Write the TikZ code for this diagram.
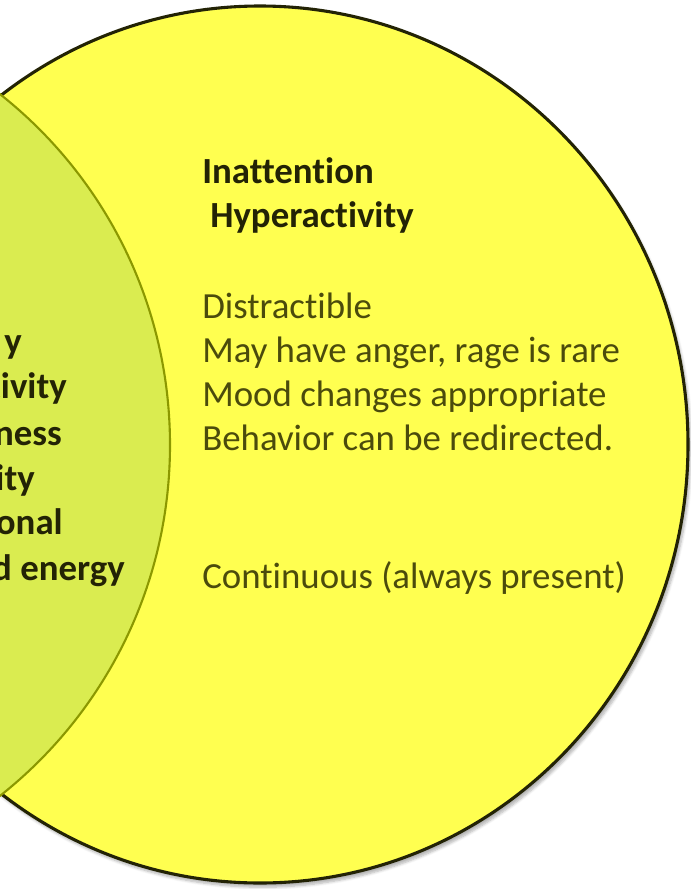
\documentclass[tikz,border=0pt]{standalone}
\usepackage{fontspec}
\setmainfont{Carlito}[Ligatures=NoCommon]
\usetikzlibrary{shadows.blur}
\definecolor{adhdyellow}{RGB}{255, 255, 80}
\definecolor{overlapgreen}{RGB}{218, 236, 80}
\definecolor{rimolive}{RGB}{140, 152, 0}
\definecolor{inkdark}{RGB}{35, 35, 5}
\definecolor{inkolive}{RGB}{75, 75, 12}

\begin{document}
\begin{tikzpicture}[x=0.025cm, y=0.025cm,
    symptom/.style={anchor=base west, inner sep=0pt, text=inkolive,
      font=\fontsize{26.2}{26.2}\selectfont},
    heading/.style={symptom, text=inkdark,
      font=\fontsize{26.2}{26.2}\selectfont\bfseries},
    shared/.style={heading, anchor=base east}]

% page frame, 691 x 889 px
\useasboundingbox (0,0) rectangle (691,-889);
\clip (0,0) rectangle (691,-889);

% ADHD circle on the right
\fill[adhdyellow, blur shadow={shadow xshift=2pt, shadow yshift=-3pt,
  shadow blur steps=6, shadow opacity=30}]
  (260,-444.5) ellipse [x radius=428, y radius=438.5];
\draw[inkdark, line width=2.2pt] (260,-444.5) ellipse [x radius=428, y radius=438.5];

% overlap with the circle on the left
\filldraw[fill=overlapgreen, draw=rimolive, line width=1.5pt]
  (-277,-445) circle [radius=447];

% right column
\node[heading] (inatt) at (202,-183) {Inattention};
\node[heading] (hyper) at (210,-227) {Hyperactivity};

\foreach \y/\txt [count=\i] in {318/Distractible,
    362/{May have anger, rage is rare},
    406/Mood changes appropriate,
    450/Behavior can be redirected.} {
  \node[symptom] (sym\i) at (202,-\y) {\txt};
}
\node[symptom] (course) at (202,-588) {Continuous (always present)};

% cut-off words in the overlap
\foreach \x/\y/\txt [count=\i] in {22/353/y, 67/398/tivity, 62/445/ness,
    35/490/ity, 63/534/onal, 125/580/d energy} {
  \node[shared] (both\i) at (\x,-\y) {\txt};
}

\end{tikzpicture}
\end{document}
